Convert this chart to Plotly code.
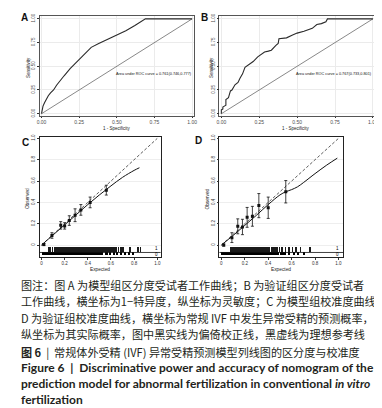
import plotly.graph_objects as go

W, H = 382, 408

# ---------------- data ----------------
A_fpr = [0, 0.005, 0.01, 0.02, 0.03, 0.045, 0.06, 0.08, 0.10, 0.124, 0.15, 0.19, 0.22,
         0.255, 0.29, 0.33, 0.38, 0.45, 0.50, 0.56, 0.62, 0.67, 0.69, 1.0]
A_tpr = [0, 0.04, 0.08, 0.115, 0.15, 0.19, 0.22, 0.25, 0.30, 0.354, 0.40, 0.476, 0.525,
         0.58, 0.64, 0.70, 0.74, 0.79, 0.83, 0.875, 0.93, 0.98, 1.0, 1.0]
A_auc = "Area under ROC curve = 0.761(0.746,0.777)"

B_fpr = [0, 0, 0.01, 0.01, 0.02, 0.03, 0.03, 0.047, 0.06, 0.07, 0.09, 0.11, 0.123, 0.14,
         0.156, 0.18, 0.21, 0.24, 0.265, 0.285, 0.31, 0.33, 0.36, 0.375, 0.38, 0.43, 0.47,
         0.50, 0.545, 0.60, 0.63, 0.66, 0.69, 0.70, 1.0]
B_tpr = [0, 0.04, 0.05, 0.07, 0.08, 0.09, 0.15, 0.17, 0.24, 0.25, 0.305, 0.33, 0.375, 0.42,
         0.49, 0.52, 0.55, 0.60, 0.63, 0.65, 0.66, 0.67, 0.72, 0.74, 0.79, 0.80, 0.83,
         0.85, 0.87, 0.90, 0.94, 0.95, 0.97, 1.0, 1.0]
B_auc = "Area under ROC curve = 0.767(0.733,0.801)"

roc_ticks = [0, 0.25, 0.5, 0.75, 1.0]
roc_ticktext = ["0.00", "0.25", "0.50", "0.75", "1.00"]

C_x = [0.02, 0.09, 0.166, 0.20, 0.24, 0.29, 0.34, 0.42, 0.56]
C_y = [0.005, 0.09, 0.185, 0.18, 0.23, 0.28, 0.33, 0.40, 0.515]
C_err = [0.01, 0.026, 0.035, 0.03, 0.045, 0.06, 0.05, 0.05, 0.046]
C_lx = [0, 0.1, 0.2, 0.3, 0.4, 0.5, 0.6, 0.7, 0.8, 0.846]
C_ly = [0, 0.095, 0.19, 0.285, 0.38, 0.47, 0.555, 0.635, 0.70, 0.725]
C_rug1 = [0.06, 0.075, 0.09, 0.11, 0.125, 0.14, 0.15, 0.165, 0.175, 0.185, 0.195, 0.205,
          0.215, 0.225, 0.232, 0.24, 0.248, 0.256, 0.263, 0.27, 0.278, 0.285, 0.292, 0.30,
          0.307, 0.313, 0.32, 0.327, 0.334, 0.34, 0.347, 0.353, 0.36, 0.367, 0.373, 0.38,
          0.387, 0.394, 0.40, 0.408, 0.415, 0.422, 0.43, 0.437, 0.445, 0.452, 0.46, 0.468,
          0.476, 0.484, 0.492, 0.50, 0.51, 0.52, 0.53, 0.54, 0.555, 0.565, 0.575, 0.59,
          0.60, 0.615, 0.63, 0.645, 0.66, 0.68, 0.70, 0.76, 0.83, 0.85]
C_rug0 = [0.005, 0.012, 0.02, 0.028, 0.035, 0.043, 0.05, 0.058, 0.066, 0.074, 0.082, 0.09,
          0.098, 0.106, 0.114, 0.122, 0.13, 0.138, 0.146, 0.154, 0.162, 0.17, 0.178, 0.186,
          0.194, 0.202, 0.21, 0.218, 0.226, 0.234, 0.242, 0.25, 0.258, 0.266, 0.274, 0.282,
          0.29, 0.298, 0.306, 0.314, 0.322, 0.33, 0.338, 0.346, 0.354, 0.362, 0.37, 0.378,
          0.386, 0.394, 0.402, 0.41, 0.418, 0.426, 0.434, 0.442, 0.45, 0.46, 0.47, 0.48,
          0.49, 0.50, 0.52, 0.55, 0.56, 0.59, 0.62, 0.65, 0.68, 0.72, 0.75, 0.79]

D_x = [0.02, 0.09, 0.14, 0.18, 0.22, 0.265, 0.32, 0.40, 0.55]
D_y = [0.0, 0.07, 0.176, 0.17, 0.26, 0.27, 0.37, 0.35, 0.50]
D_err = [0.01, 0.046, 0.07, 0.072, 0.093, 0.093, 0.113, 0.10, 0.105]
D_lx = [0, 0.1, 0.2, 0.3, 0.4, 0.5, 0.55, 0.6, 0.65, 0.7, 0.8, 0.9, 0.99]
D_ly = [0, 0.09, 0.185, 0.28, 0.38, 0.47, 0.50, 0.52, 0.546, 0.585, 0.67, 0.75, 0.815]
D_rug1 = [0.08, 0.095, 0.11, 0.12, 0.135, 0.145, 0.16, 0.17, 0.18, 0.19, 0.20, 0.21, 0.22,
          0.228, 0.236, 0.245, 0.255, 0.265, 0.275, 0.285, 0.295, 0.305, 0.318, 0.33, 0.34,
          0.35, 0.36, 0.375, 0.39, 0.40, 0.415, 0.43, 0.445, 0.46, 0.48, 0.50, 0.52, 0.55,
          0.58, 0.61, 0.64, 0.68, 0.76]
D_rug0 = [0.01, 0.018, 0.026, 0.034, 0.042, 0.05, 0.058, 0.066, 0.074, 0.082, 0.09, 0.098,
          0.106, 0.114, 0.122, 0.13, 0.138, 0.146, 0.154, 0.162, 0.17, 0.178, 0.186, 0.194,
          0.202, 0.21, 0.218, 0.226, 0.234, 0.242, 0.25, 0.258, 0.266, 0.274, 0.282, 0.29,
          0.30, 0.31, 0.32, 0.33, 0.34, 0.35, 0.36, 0.37, 0.385, 0.40, 0.41, 0.425, 0.44,
          0.455, 0.47, 0.49, 0.51, 0.53, 0.55, 0.58, 0.62, 0.66, 0.71]

cal_ticks = [0, 0.2, 0.4, 0.6, 0.8, 1.0]
cal_ticktext = ["0", "0.2", "0.4", "0.6", "0.8", "1.0"]

caption_cn = [
    "图注：图 A 为模型组区分度受试者工作曲线；B 为验证组区分度受试者",
    "工作曲线，横坐标为1−特异度，纵坐标为灵敏度；C 为模型组校准度曲线",
    "D 为验证组校准度曲线，横坐标为常规 IVF 中发生异常受精的预测概率，",
    "纵坐标为其实际概率，图中黑实线为偏倚校正线，黑虚线为理想参考线",
]
title_cn = "<b>图 6</b>  |  常规体外受精 (IVF) 异常受精预测模型列线图的区分度与校准度"
title_en = [
    "<b>Figure 6  |  Discriminative power and accuracy of nomogram of the</b>",
    "<b>prediction model for abnormal fertilization in conventional <i>in vitro</i></b>",
    "<b>fertilization</b>",
]

def fx(p):
    return p / W

def fy(p):
    return 1 - p / H

FONT = "Liberation Sans, Arial, sans-serif"
fig = go.Figure()

for xa, ya, fpr, tpr in [("x", "y", A_fpr, A_tpr), ("x2", "y2", B_fpr, B_tpr)]:
    fig.add_trace(go.Scatter(x=[0, 1], y=[0, 1], mode="lines", xaxis=xa, yaxis=ya,
                             line=dict(color="#555555", width=0.7), showlegend=False))
    fig.add_trace(go.Scatter(x=fpr, y=tpr, mode="lines", xaxis=xa, yaxis=ya,
                             line=dict(color="#2a2a2a", width=1.1), showlegend=False))

rug_line, rug_top, rug_bot = -0.069, -0.019, -0.10
for xa, ya, px, py, pe, lx, ly, r1, r0 in [
        ("x3", "y3", C_x, C_y, C_err, C_lx, C_ly, C_rug1, C_rug0),
        ("x4", "y4", D_x, D_y, D_err, D_lx, D_ly, D_rug1, D_rug0)]:
    fig.add_trace(go.Scatter(x=[0, 1], y=[0, 1], mode="lines", xaxis=xa, yaxis=ya,
                             line=dict(color="#333333", width=0.8, dash="3px,2px"),
                             showlegend=False))
    fig.add_trace(go.Scatter(x=lx, y=ly, mode="lines", xaxis=xa, yaxis=ya,
                             line=dict(color="#111111", width=1.0, shape="spline"),
                             showlegend=False))
    fig.add_trace(go.Scatter(x=px, y=py, mode="markers", xaxis=xa, yaxis=ya,
                             marker=dict(symbol="square", size=3, color="#111111"),
                             error_y=dict(type="data", array=pe, color="#111111",
                                          thickness=0.8, width=1.5),
                             showlegend=False))
    # rug of predicted risks: events above the line, non-events below
    fig.add_trace(go.Bar(x=r1, y=[rug_top - rug_line] * len(r1), base=rug_line,
                         width=0.006, marker=dict(color="#1a1a1a", line_width=0),
                         xaxis=xa, yaxis=ya, showlegend=False))
    fig.add_trace(go.Bar(x=r0, y=[rug_bot - rug_line] * len(r0), base=rug_line,
                         width=0.009, marker=dict(color="#000000", line_width=0),
                         xaxis=xa, yaxis=ya, showlegend=False))

def roc_axes(xdom, ydom, xr, yr):
    xa = dict(domain=xdom, range=xr, tickvals=roc_ticks, ticktext=roc_ticktext,
              tickfont=dict(size=5, color="#4d4d4d", family=FONT), ticks="outside",
              ticklen=1.5, tickwidth=0.5, tickcolor="#333333", showline=True,
              linecolor="#555555", linewidth=0.6, mirror=True, showgrid=True,
              gridcolor="#ebebeb", gridwidth=0.5, zeroline=False, fixedrange=True)
    ya = dict(domain=ydom, range=yr, tickvals=roc_ticks, ticktext=roc_ticktext,
              tickfont=dict(size=4.5, color="#4d4d4d", family=FONT), ticks="outside",
              ticklen=1.5, tickwidth=0.5, tickcolor="#333333", tickangle=-90,
              showline=True, linecolor="#555555", linewidth=0.6, mirror=True,
              showgrid=True, gridcolor="#ebebeb", gridwidth=0.5, zeroline=False,
              fixedrange=True)
    return xa, ya

def cal_axes(xdom, ydom, xr, yr):
    xa = dict(domain=xdom, range=xr, tickvals=cal_ticks, ticktext=cal_ticktext,
              tickfont=dict(size=4.5, color="#333333", family=FONT), ticks="outside",
              ticklen=2, tickwidth=0.5, tickcolor="#333333", showline=True,
              linecolor="#222222", linewidth=0.7, mirror=True, showgrid=False,
              zeroline=False, fixedrange=True)
    ya = dict(domain=ydom, range=yr, tickvals=cal_ticks, ticktext=cal_ticktext,
              tickfont=dict(size=4.5, color="#333333", family=FONT), ticks="outside",
              ticklen=2, tickwidth=0.5, tickcolor="#333333", tickangle=-90,
              showline=True, linecolor="#222222", linewidth=0.7, mirror=True,
              showgrid=True, gridcolor="#eeeeee", gridwidth=0.5, zeroline=False,
              fixedrange=True)
    return xa, ya

xA, yA = roc_axes([fx(29), fx(186)], [fy(106), fy(5)], [-0.013, 1.013], [-0.021, 1.031])
xB, yB = roc_axes([fx(211.7), fx(370)], [fy(106), fy(5)], [-0.013, 1.015], [-0.021, 1.031])
xC, yC = cal_axes([fx(29), fx(152)], [fy(249), fy(128)], [-0.017, 1.029], [-0.111, 1.009])
xD, yD = cal_axes([fx(211.7), fx(337.7)], [fy(249), fy(128)], [-0.017, 1.042], [-0.111, 1.009])
xA.update(anchor="y"); yA.update(anchor="x")
xB.update(anchor="y2"); yB.update(anchor="x2")
xC.update(anchor="y3"); yC.update(anchor="x3")
xD.update(anchor="y4"); yD.update(anchor="x4")

ann = []
def txt(x, y, text, size, color="#111111", family=FONT, angle=0, xanchor="center",
        xref="paper", yref="paper"):
    ann.append(dict(x=x, y=y, xref=xref, yref=yref, text=text, showarrow=False,
                    font=dict(size=size, color=color, family=family), textangle=angle,
                    xanchor=xanchor, yanchor="middle"))

for lab, px_, py_ in [("A", 13.5, 7), ("B", 196.5, 7), ("C", 14.5, 133.5), ("D", 190, 131)]:
    txt(fx(px_), fy(py_), "<b>%s</b>" % lab, 10, color="#111111")

txt(fx(18), fy(57), "Sensitivity", 4.5, color="#222222", angle=-90)
txt(fx(204), fy(57), "Sensitivity", 4.5, color="#222222", angle=-90)
txt(fx(107.5), fy(118.5), "1 - Specificity", 4.5, color="#222222")
txt(fx(290), fy(118.5), "1 - Specificity", 4.5, color="#222222")
txt(0.745, 0.417, A_auc, 3.8, color="#111111", xref="x", yref="y")
txt(0.742, 0.42, B_auc, 3.8, color="#111111", xref="x2", yref="y2")

txt(fx(16.7), fy(190), "Observed", 4.8, color="#222222", angle=-90)
txt(fx(200), fy(190), "Observed", 4.8, color="#222222", angle=-90)
txt(fx(90), fy(262), "Expected", 4.8, color="#222222")
txt(fx(274), fy(262), "Expected", 4.8, color="#222222")
for xr_, yr_ in [("x3", "y3"), ("x4", "y4")]:
    txt(0.995, -0.030, "1", 4.5, color="#000000", xref=xr_, yref=yr_)
    txt(0.995, -0.090, "0", 4.5, color="#000000", xref=xr_, yref=yr_)

CJK = "Noto Sans CJK SC"
for i, line in enumerate(caption_cn):
    txt(fx(8.5), fy([277, 294, 310.7, 327.5][i]), line, 11.1, color="#231f20",
        family=CJK, xanchor="left")
txt(fx(8.5), fy(345), title_cn, 11.1, color="#231f20", family=CJK, xanchor="left")
for i, line in enumerate(title_en):
    txt(fx(8.5), fy([360.7, 377.3, 393.3][i]), line, 12, color="#231f20",
        family="Lato, Open Sans, sans-serif", xanchor="left")

shapes = []
for xr_, yr_ in [("x3 domain", "y3"), ("x4 domain", "y4")]:
    shapes.append(dict(type="line", xref=xr_, yref=yr_, x0=0, x1=1, y0=rug_line,
                       y1=rug_line, line=dict(color="#111111", width=0.8)))

fig.update_layout(
    width=W, height=H, autosize=False,
    margin=dict(l=0, r=0, t=0, b=0),
    paper_bgcolor="white", plot_bgcolor="white",
    barmode="overlay", bargap=0,
    xaxis=xA, yaxis=yA, xaxis2=xB, yaxis2=yB,
    xaxis3=xC, yaxis3=yC, xaxis4=xD, yaxis4=yD,
    annotations=ann, shapes=shapes, showlegend=False,
)

fig.write_html("out.html", config=dict(displayModeBar=False))
